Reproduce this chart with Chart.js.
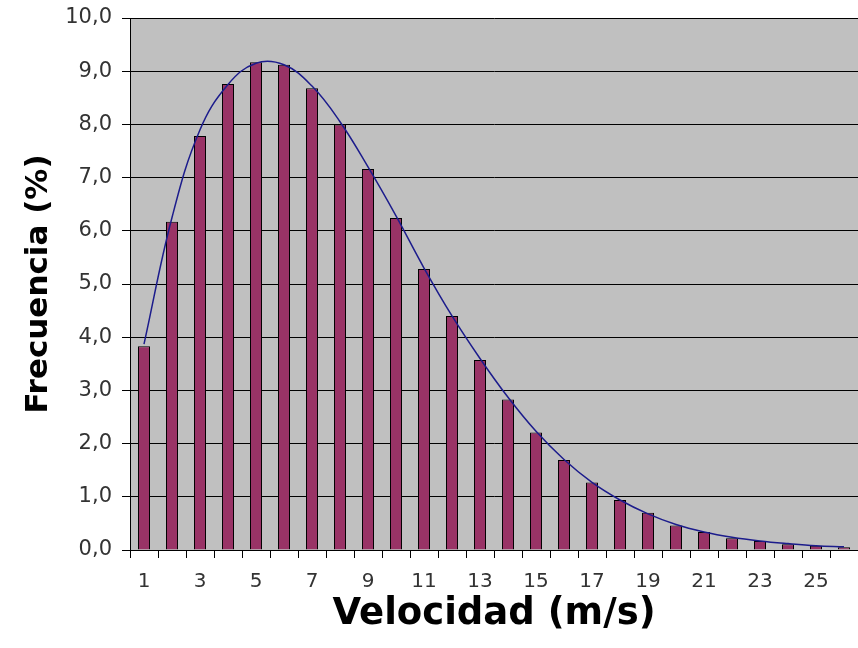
<!DOCTYPE html>
<html>
<head>
<meta charset="utf-8">
<script src="https://cdn.jsdelivr.net/npm/chart.js@4.4.0/dist/chart.umd.min.js"></script>
<style>
  html, body { margin: 0; padding: 0; background: #fff; }
</style>
</head>
<body>
<canvas id="windChart" width="858" height="648"></canvas>
<script>
// velocidad del viento (m/s), una clase por m/s
var velocidades = ['1','2','3','4','5','6','7','8','9','10','11','12','13',
                   '14','15','16','17','18','19','20','21','22','23','24','25','26'];

// frecuencia medida (%) - barras
var frecuencias = [3.83, 6.17, 7.78, 8.76, 9.17, 9.12, 8.68, 8.0, 7.16, 6.24, 5.28, 4.40, 3.57,
                   2.83, 2.21, 1.69, 1.27, 0.94, 0.70, 0.46, 0.34, 0.22, 0.17, 0.11, 0.08, 0.05];

// curva ajustada (Weibull)
var ajuste = [3.87, 6.25, 7.90, 8.75, 9.15, 9.12, 8.72, 8.05, 7.20, 6.28, 5.30, 4.40, 3.60,
              2.87, 2.23, 1.70, 1.27, 0.94, 0.68, 0.48, 0.34, 0.24, 0.17, 0.12, 0.08, 0.06];

// fondo gris del area de trazado
const fondoGris = {
    id: 'fondoGris',
    beforeDraw(chart) {
        const {ctx, chartArea} = chart;
        ctx.save();
        ctx.fillStyle = '#c0c0c0';
        ctx.fillRect(chartArea.left, chartArea.top, chartArea.right - chartArea.left, chartArea.bottom - chartArea.top);
        ctx.restore();
    }
};

const ctx = document.getElementById('windChart').getContext('2d');
const windChart = new Chart(ctx, {
    type: 'bar',
    data: {
        labels: velocidades,
        datasets: [
            {
                type: 'line',
                label: 'Weibull',
                data: ajuste,
                borderColor: '#1c1c8c',
                borderWidth: 1.5,
                pointRadius: 0,
                tension: 0.4,
                fill: false,
                order: 0
            },
            {
                label: 'Frecuencia',
                data: frecuencias,
                backgroundColor: '#993366',
                borderColor: '#000',
                borderWidth: 1,
                categoryPercentage: 1,
                barPercentage: 0.43,
                order: 1
            }
        ]
    },
    options: {
        responsive: false,
        animation: false,
        layout: { padding: { top: 18, right: 0, left: 0, bottom: 0 } },
        plugins: {
            legend: { display: false },
            tooltip: { enabled: false }
        },
        scales: {
            x: {
                grid: { drawOnChartArea: false, tickLength: 8, color: '#000', offset: true },
                border: { color: '#000' },
                ticks: {
                    autoSkip: false,
                    maxRotation: 0,
                    color: '#333',
                    padding: 12,
                    font: { family: 'DejaVu Sans', size: 20 },
                    callback: function (v, i) {
                        return i % 2 === 0 ? this.getLabelForValue(v) : '';
                    }
                },
                title: {
                    display: true,
                    text: 'Velocidad (m/s)',
                    color: '#000',
                    font: { family: 'DejaVu Sans', size: 37, weight: 'bold' },
                    padding: { top: 0, bottom: 11 }
                },
                afterFit: function (scale) { scale.height = 98; }
            },
            y: {
                min: 0,
                max: 10,
                grid: { color: '#000', tickLength: 8 },
                border: { color: '#000' },
                ticks: {
                    stepSize: 1,
                    color: '#333',
                    padding: 10,
                    font: { family: 'DejaVu Sans', size: 21 },
                    callback: (v) => v.toFixed(1).replace('.', ',')
                },
                title: {
                    display: true,
                    text: 'Frecuencia (%)',
                    color: '#000',
                    font: { family: 'DejaVu Sans', size: 31, weight: 'bold' },
                    padding: { top: 20, bottom: 0 }
                },
                afterFit: function (scale) {
                    scale.width = 130;
                    // el area de trazado empieza justo en 18px
                    scale.paddingTop = 0;
                    scale.paddingBottom = 0;
                }
            }
        }
    },
    plugins: [fondoGris]
});
</script>
</body>
</html>
